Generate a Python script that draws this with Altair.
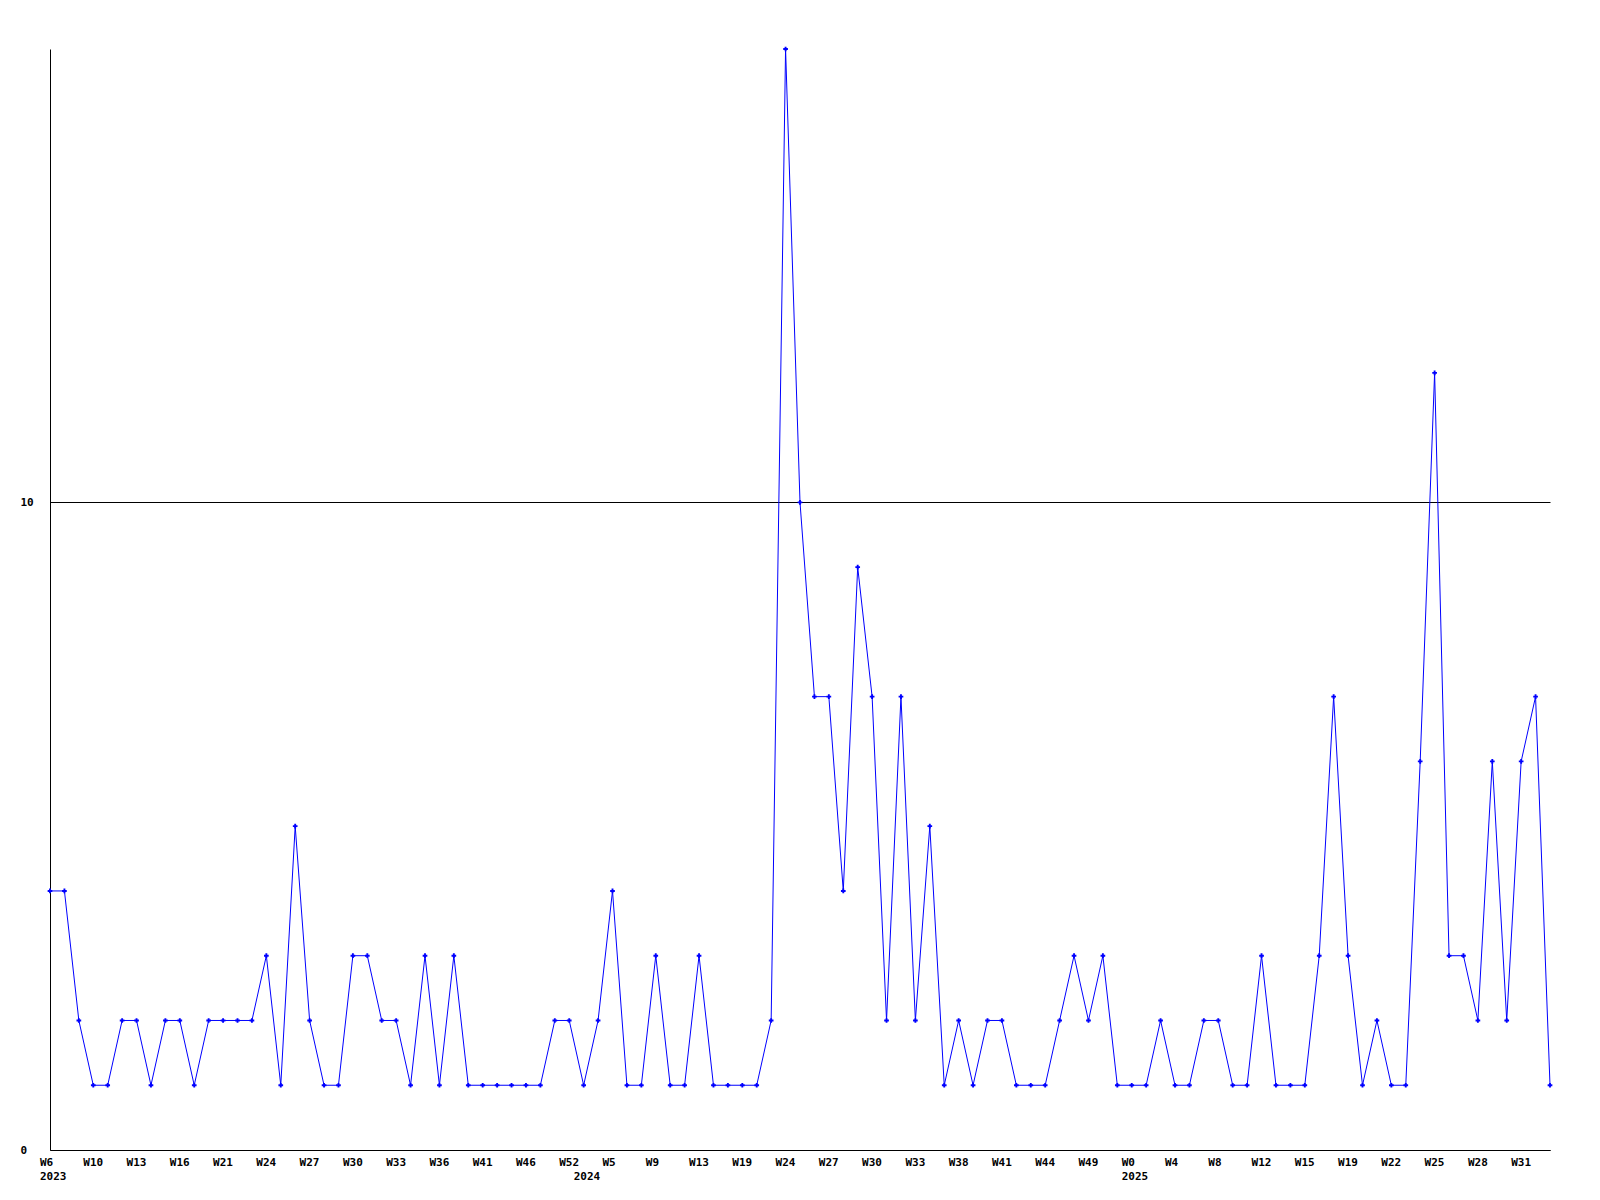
import json
import altair as alt
import pandas as pd

# weekly counts, one per point (index 0..104)
values = [4, 4, 2, 1, 1, 2, 2, 1, 2, 2,
          1, 2, 2, 2, 2, 3, 1, 5, 2, 1,
          1, 3, 3, 2, 2, 1, 3, 1, 3, 1,
          1, 1, 1, 1, 1, 2, 2, 1, 2, 4,
          1, 1, 3, 1, 1, 3, 1, 1, 1, 1,
          2, 17, 10, 7, 7, 4, 9, 7, 2, 7,
          2, 5, 1, 2, 1, 2, 2, 1, 1, 1,
          2, 3, 2, 3, 1, 1, 1, 2, 1, 1,
          2, 2, 1, 1, 3, 1, 1, 1, 3, 7,
          3, 1, 2, 1, 1, 6, 12, 3, 3, 2,
          6, 2, 6, 7, 1]

# x-axis week labels (one every third point) and year labels
week_labels = ["W6", "W10", "W13", "W16", "W21", "W24", "W27", "W30", "W33", "W36",
               "W41", "W46", "W52", "W5", "W9", "W13", "W19", "W24", "W27", "W30",
               "W33", "W38", "W41", "W44", "W49", "W0", "W4", "W8", "W12", "W15",
               "W19", "W22", "W25", "W28", "W31"]
week_ticks = list(range(0, 103, 3))
year_labels = ["2023", "2024", "2025"]
year_ticks = [0, 37, 75]

y_ticks = [0, 10]

df = pd.DataFrame({"i": list(range(len(values))), "v": values})

# build multi-line tick labels: week on first line, year (if any) on second
tick_vals, tick_labs = [], []
for t, w in zip(week_ticks, week_labels):
    tick_vals.append(t)
    if t in year_ticks:
        tick_labs.append([w, year_labels[year_ticks.index(t)]])
    else:
        tick_labs.append([w])
for t, yl in zip(year_ticks, year_labels):
    if t not in week_ticks:
        tick_vals.append(t)
        tick_labs.append(["", yl])
label_expr = f"{json.dumps(tick_labs)}[indexof({json.dumps(tick_vals)}, datum.value)]"

FONT = "DejaVu Sans Mono"

x = alt.X("i:Q",
          scale=alt.Scale(domain=[0, len(values) - 1], nice=False, zero=False),
          axis=alt.Axis(values=tick_vals, labelExpr=label_expr, title=None,
                        grid=False, ticks=False, tickSize=0, domain=True,
                        domainColor="black", domainWidth=1,
                        labelFlush=False, labelOverlap=False, labelBound=False,
                        labelFont=FONT, labelFontSize=11, labelFontWeight="bold",
                        labelColor="black", labelPadding=6, labelLineHeight=14,
                        labelAlign="left", labelOffset=-10.5, labelBaseline="top"))
y = alt.Y("v:Q",
          scale=alt.Scale(domain=[0, 17], nice=False, zero=True),
          axis=alt.Axis(values=y_ticks, format="d", title=None, grid=True,
                        gridColor="black", gridOpacity=1, gridWidth=1,
                        ticks=False, tickSize=0,
                        domain=True, domainColor="black", domainWidth=1,
                        labelFont=FONT, labelFontSize=11, labelFontWeight="bold",
                        labelColor="black", labelAlign="left", labelPadding=30,
                        labelFlush=False, labelOverlap=False))

base = alt.Chart(df)
line = base.mark_line(color="#0000ff", strokeWidth=1).encode(x=x, y=y)
pts = base.mark_point(shape="cross", filled=True, size=22, color="#0000ff",
                      opacity=1).encode(x="i:Q", y="v:Q")

chart = (line + pts).properties(
    width=1500, height=1101,
    autosize=alt.AutoSizeParams(type="none"),
    padding={"left": 42, "top": 41, "right": 30, "bottom": 40},
    background="white",
).configure_view(stroke=None)

chart.save("out.html", embed_options={"renderer": "svg", "actions": False})
